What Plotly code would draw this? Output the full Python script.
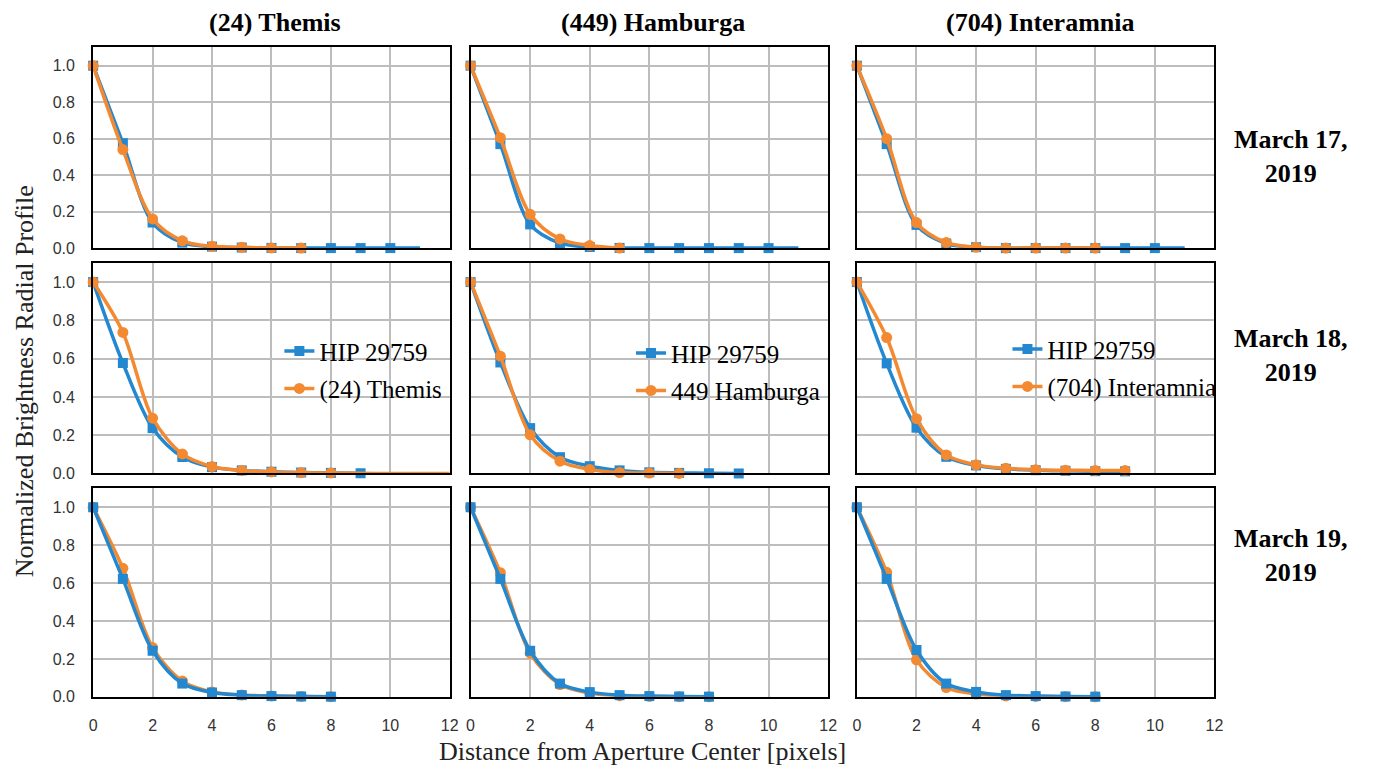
import plotly.graph_objects as go

# ---------------- data ----------------
targets = ["(24) Themis", "(449) Hamburga", "(704) Interamnia"]
legend_names = ["(24) Themis", "449 Hamburga", "(704) Interamnia"]
dates = ["March 17,<br>2019", "March 18,<br>2019", "March 19,<br>2019"]
star_name = "HIP 29759"
x_tick_vals = [0, 2, 4, 6, 8, 10, 12]
y_tick_vals = [0.0, 0.2, 0.4, 0.6, 0.8, 1.0]

# normalized radial profiles, sampled at 0,1,2,... pixels
# March 17
star_themis_17 = [1.0, 0.575, 0.14, 0.03, 0.008, 0.003, 0.001, 0.0, 0.0, 0.0, 0.0, 0.0]
themis_17 = [1.0, 0.54, 0.16, 0.04, 0.01, 0.004, 0.001, 0.0]
star_hamburga_17 = [1.0, 0.57, 0.13, 0.027, 0.006, 0.001, 0.0, 0.0, 0.0, 0.0, 0.0, 0.0]
hamburga_17 = [1.0, 0.605, 0.185, 0.05, 0.014, 0.0]
star_interamnia_17 = [1.0, 0.57, 0.127, 0.025, 0.005, 0.0, 0.0, 0.0, 0.0, 0.0, 0.0, 0.0]
interamnia_17 = [1.0, 0.60, 0.14, 0.03, 0.005, 0.0, 0.0, 0.0, 0.0]
# March 18
star_themis_18 = [1.0, 0.577, 0.237, 0.086, 0.033, 0.016, 0.009, 0.005, 0.003, 0.001]
themis_18 = [1.0, 0.737, 0.289, 0.102, 0.036, 0.016, 0.008, 0.004, 0.003, 0.001, 0.0, 0.0, 0.0]
star_hamburga_18 = [1.0, 0.58, 0.237, 0.085, 0.038, 0.016, 0.006, 0.003, 0.001, 0.0]
hamburga_18 = [1.0, 0.613, 0.202, 0.064, 0.021, 0.005, 0.002, 0.0]
star_interamnia_18 = [1.0, 0.575, 0.239, 0.087, 0.042, 0.024, 0.017, 0.014, 0.012, 0.011]
interamnia_18 = [1.0, 0.71, 0.286, 0.097, 0.045, 0.027, 0.02, 0.017, 0.016, 0.015]
# March 19
star_themis_19 = [1.0, 0.622, 0.243, 0.07, 0.023, 0.009, 0.004, 0.002, 0.001]
themis_19 = [1.0, 0.678, 0.26, 0.083, 0.026, 0.01, 0.005, 0.002, 0.001]
star_hamburga_19 = [1.0, 0.622, 0.243, 0.07, 0.025, 0.009, 0.004, 0.002, 0.001]
hamburga_19 = [1.0, 0.655, 0.23, 0.065, 0.02, 0.006, 0.002, 0.001, 0.0]
star_interamnia_19 = [1.0, 0.622, 0.247, 0.07, 0.026, 0.009, 0.004, 0.002, 0.001]
interamnia_19 = [1.0, 0.657, 0.195, 0.049, 0.015, 0.005, 0.002, 0.001, 0.0]

star_grid = [[star_themis_17, star_hamburga_17, star_interamnia_17],
             [star_themis_18, star_hamburga_18, star_interamnia_18],
             [star_themis_19, star_hamburga_19, star_interamnia_19]]
target_grid = [[themis_17, hamburga_17, interamnia_17],
               [themis_18, hamburga_18, interamnia_18],
               [themis_19, hamburga_19, interamnia_19]]

# ---------------- style / layout ----------------
W, H = 1379, 778
BLUE = "#2388D0"
ORANGE = "#F38A32"
GRID = "#BDBDBD"
col_px = [(90, 450), (471, 832), (861, 1222)]
row_px = [(48, 251), (266, 479), (494, 705)]
# number of points carrying a marker (the rest of the curve is plain line)
star_marked = [[11, 11, 11], [None, None, None], [None, None, None]]
target_marked = [[None, None, None], [9, None, None], [None, None, None]]

fig = go.Figure()
legend_ids = ["legend", "legend2", "legend3"]


def series_traces(vals, marked, name, color, symbol, size, xa, ya, show_leg, legend_id, group):
    n = len(vals)
    m = n if marked is None else marked
    xs = list(range(n))
    out = [go.Scatter(
        x=xs[:m], y=vals[:m], xaxis=xa, yaxis=ya, name=name,
        mode="lines+markers", line=dict(color=color, width=3.5, shape="spline", smoothing=0.9),
        marker=dict(symbol=symbol, size=size, color=color),
        cliponaxis=False, showlegend=show_leg, legend=legend_id, legendgroup=group)]
    if m < n:
        out.append(go.Scatter(
            x=xs[m - 1:], y=vals[m - 1:], xaxis=xa, yaxis=ya, name=name,
            mode="lines", line=dict(color=color, width=3.5, shape="spline", smoothing=0.9),
            showlegend=False, legend=legend_id, legendgroup=group, hoverinfo="skip"))
    return out


for r in range(3):
    for c in range(3):
        k = r * 3 + c + 1
        xa = "x" if k == 1 else f"x{k}"
        ya = "y" if k == 1 else f"y{k}"
        show_leg = (r == 1)
        star_trs = series_traces(star_grid[r][c], star_marked[r][c], star_name, BLUE, "square", 10,
                                 xa, ya, show_leg, legend_ids[c], f"s{c}")
        targ_trs = series_traces(target_grid[r][c], target_marked[r][c], legend_names[c], ORANGE,
                                 "circle", 11, xa, ya, show_leg, legend_ids[c], f"t{c}")
        order = star_trs + targ_trs if r < 2 else targ_trs + star_trs
        for tr in order:
            fig.add_trace(tr)

        x0, x1 = col_px[c]
        y0, y1 = row_px[r]
        axis_common = dict(showline=True, mirror=True, linecolor="black", linewidth=2,
                           showgrid=True, gridcolor=GRID, gridwidth=1.5, zeroline=False,
                           ticks="", tickfont=dict(family="Liberation Sans", size=16, color="#333333"),
                           ticklabelstandoff=13)
        fig.layout[f"xaxis{'' if k == 1 else k}"] = dict(
            domain=[x0 / W, x1 / W], anchor=ya, range=[0, 12],
            tickvals=x_tick_vals, showticklabels=(r == 2), **axis_common)
        fig.layout[f"yaxis{'' if k == 1 else k}"] = dict(
            domain=[1 - y1 / H, 1 - y0 / H], anchor=xa, range=[0, 1.1],
            tickvals=y_tick_vals, tickformat=".1f", showticklabels=(c == 0), **axis_common)

annotations = []
title_font = dict(family="Liberation Serif", size=26, color="black")
for c in range(3):
    x0, x1 = col_px[c]
    annotations.append(dict(text=f"<b>{targets[c]}</b>", x=((x0 + x1) / 2 + 4) / W, y=1 - 23 / H,
                            xref="paper", yref="paper", showarrow=False, font=title_font,
                            xanchor="center", yanchor="middle"))
row_centers = [158, 360, 562]
for r in range(3):
    annotations.append(dict(text=f"<b>{dates[r]}</b>", x=1299 / W, y=1 - row_centers[r] / H,
                            xref="paper", yref="paper", showarrow=False, font=title_font,
                            xanchor="center", yanchor="middle", align="center"))
annotations.append(dict(text="Distance from Aperture Center [pixels]", x=645 / W, y=1 - 760 / H,
                        xref="paper", yref="paper", showarrow=False,
                        font=dict(family="Liberation Serif", size=26, color="#222"),
                        xanchor="center", yanchor="middle"))
annotations.append(dict(text="Normalized Brightness Radial Profile", x=21 / W, y=1 - 386 / H,
                        xref="paper", yref="paper", showarrow=False, textangle=-90,
                        font=dict(family="Liberation Serif", size=26, color="#222"),
                        xanchor="center", yanchor="middle"))

leg_font = dict(family="Liberation Serif", size=25, color="black")
leg_pos = [(278, 332), (633, 334), (1013, 330)]
legs = {}
for i, lid in enumerate(legend_ids):
    lx, ly = leg_pos[i]
    legs[lid] = dict(x=lx / W, y=1 - ly / H, xanchor="left", yanchor="top",
                     bgcolor="rgba(0,0,0,0)", font=leg_font, traceorder="grouped",
                     tracegroupgap=2, borderwidth=0)

fig.update_layout(width=W, height=H, margin=dict(l=0, r=0, t=0, b=0),
                  paper_bgcolor="white", plot_bgcolor="white",
                  annotations=annotations, **legs)

fig.write_html("out.html")
